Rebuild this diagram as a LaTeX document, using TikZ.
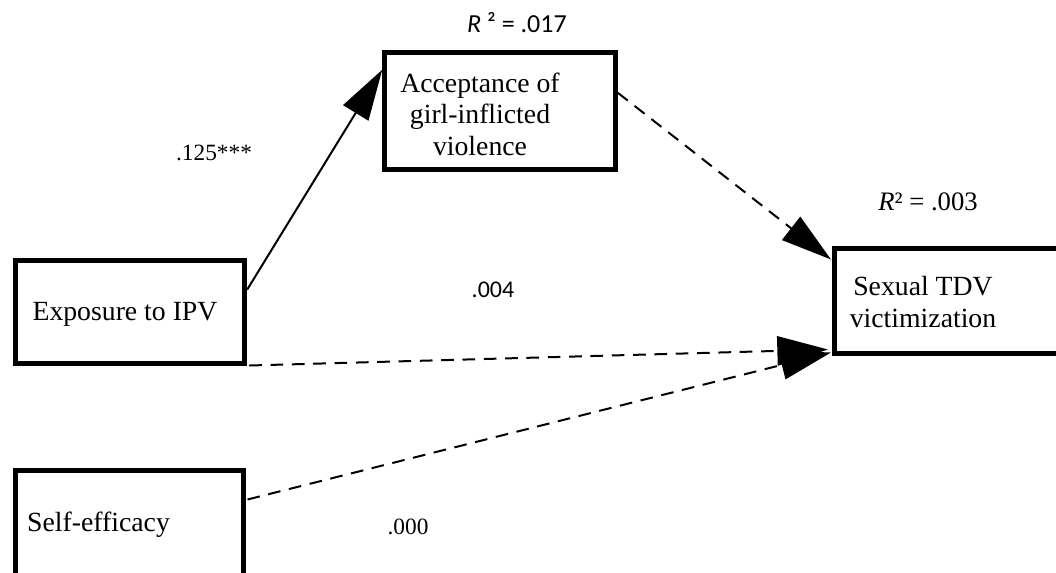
\documentclass[tikz,border=0pt]{standalone}
\usepackage{fontspec}
\setmainfont{Liberation Serif}
\newfontfamily\calibri{Carlito}
\usetikzlibrary{arrows.meta,calc}

\begin{document}
\begin{tikzpicture}[x=0.75pt,y=-0.75pt,
    var box/.style={draw, line width=3.75pt, inner sep=0pt},
    box text/.style={align=center, inner sep=0pt, font=\fontsize{20.8pt}{23.6pt}\selectfont},
    coef/.style={inner sep=0pt, font=\fontsize{17.5pt}{21pt}\selectfont},
    coef sans/.style={inner sep=0pt, font=\calibri\fontsize{18pt}{21pt}\selectfont},
    arrow/.style={line width=1.5pt, -{Triangle[length=38pt, width=22pt]}},
    dashed arrow/.style={arrow, dash pattern=on 9.5pt off 6.5pt}]

\useasboundingbox (0,0) rectangle (1056,572);

% boxes
\node[var box, minimum width=172.9pt, minimum height=88.1pt] (accbox) at (500,111) {};
\node[var box, minimum width=172.1pt, minimum height=77.25pt] (expbox) at (130,311.5) {};
\node[var box, minimum width=171pt, minimum height=90pt] (selfbox) at (129,530) {};
\node[var box, minimum width=180pt, minimum height=78.75pt] (sexbox) at (954.5,300.5) {};

% box texts
\node[box text] (acctext) at (480,114) {Acceptance of\\girl-inflicted\\violence};
\node[box text] (exptext) at (125,314) {Exposure to IPV};
\node[box text] (selftext) at (98.5,525) {Self-efficacy};
\node[box text] (sextext) at (923,302) {Sexual TDV\\victimization};

% coefficients
\node[coef sans, font=\calibri\fontsize{19.5pt}{23pt}\selectfont] (r2acc) at (517,23) {\textit{R} ² = .017};
\node[coef, font=\fontsize{20pt}{24pt}\selectfont] (r2sex) at (928,202) {\textit{R}² = .003};
\node[coef] (bacc) at (214,153) {.125***};
\node[coef sans] (bexp) at (493,290) {.004};
\node[coef] (bself) at (408,527) {.000};

% end points
\coordinate (expout) at ($(expbox.north east)+(0,32)$);
\coordinate (accin) at ($(accbox.north west)+(0,20)$);
\coordinate (accout) at ($(accbox.north east)+(0,43)$);
\coordinate (sexin) at ($(sexbox.north west)+(-1,14)$);
\coordinate (expout2) at ($(expbox.south east)+(2,0)$);
\coordinate (sexin2) at ($(sexbox.south west)+(-4,-6)$);
\coordinate (selfout) at ($(selfbox.north east)+(2,32)$);
\coordinate (sexin3) at ($(sexbox.south west)+(-1,-3)$);

\path (expout) edge[arrow] (accin)
(accout) edge[dashed arrow] (sexin)
(expout2) edge[dashed arrow] (sexin2)
(selfout) edge[dashed arrow] (sexin3);

\end{tikzpicture}
\end{document}
